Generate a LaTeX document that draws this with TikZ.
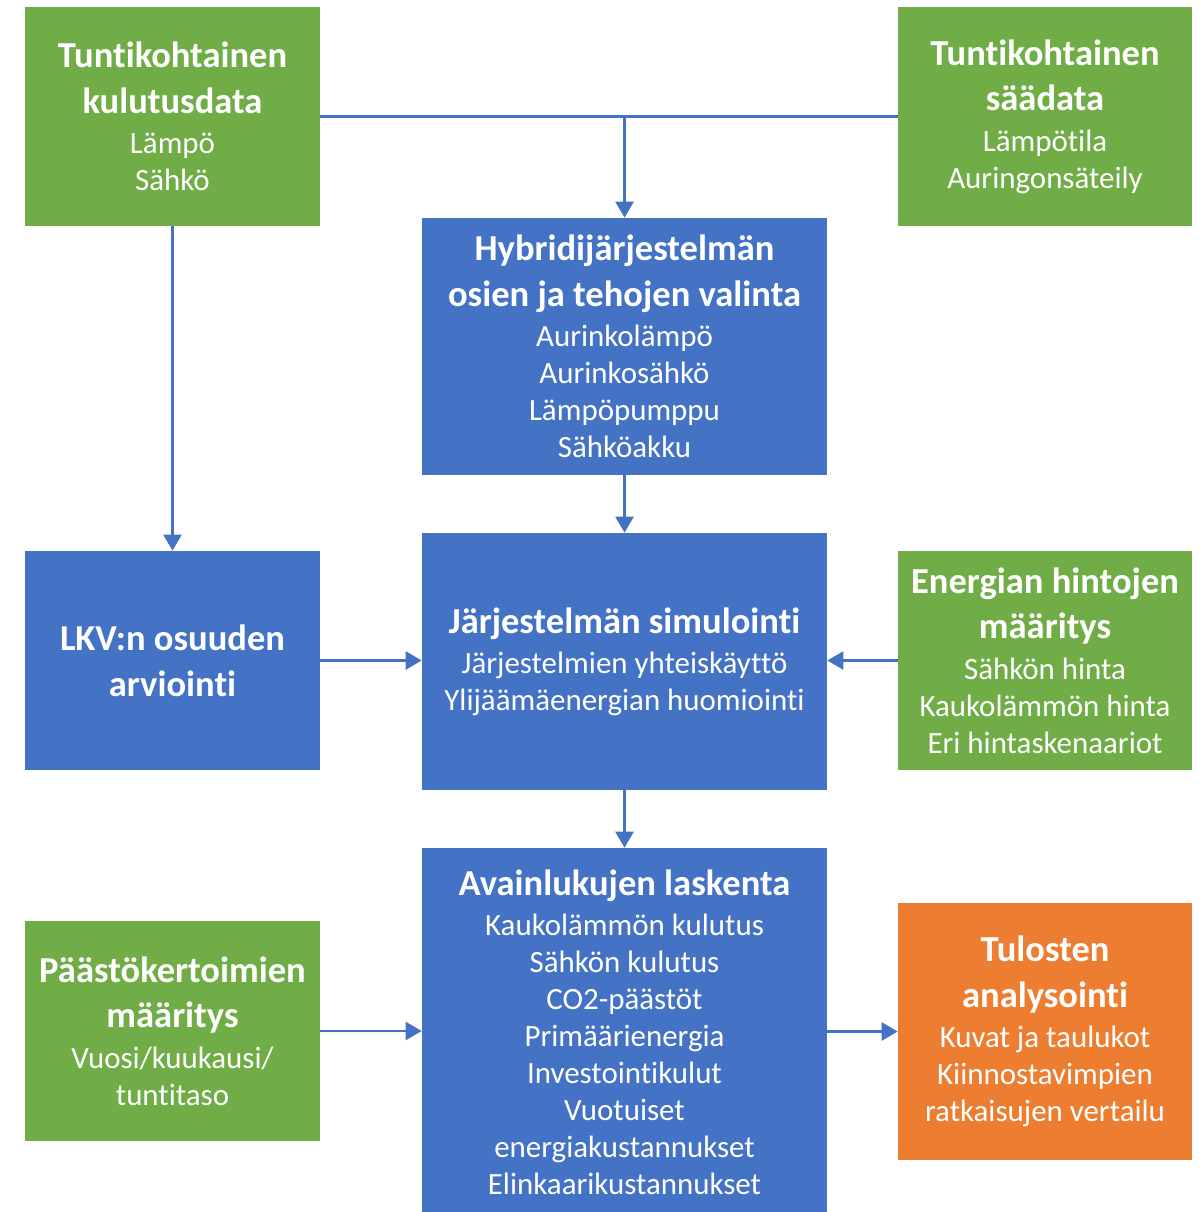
\documentclass[tikz,border=0pt]{standalone}
\usepackage{fontspec}
\setmainfont{Carlito}[Ligatures=NoCommon]
\usetikzlibrary{arrows.meta,positioning}
\definecolor{Grass}{RGB}{112,173,71}
\definecolor{Ocean}{RGB}{68,114,196}
\definecolor{Amber}{RGB}{237,125,49}
\newcommand{\hd}[1]{{\bfseries\fontsize{20.8}{21}\selectfont #1}}
\tikzset{
  fbox/.style={rectangle,fill=Ocean,text=white,align=center,
               font=\fontsize{17.6}{21}\selectfont,inner sep=2pt},
  gbox/.style={fbox,fill=Grass,minimum width=5.9cm,minimum height=4.38cm},
  bbox/.style={fbox,minimum width=8.1cm,minimum height=5.14cm},
  obox/.style={fbox,fill=Amber,minimum width=5.88cm,minimum height=5.14cm},
  link/.style={Ocean,line width=1.4pt},
  conn/.style={link,-{Triangle[length=0.32cm,width=0.36cm]}},
}

\begin{document}
\begin{tikzpicture}[x=0.02cm,y=-0.02cm]
  \useasboundingbox (0,0) rectangle (1202,1212);
  % inputs
  \node[gbox] (kulutus) at (172.5,116.5)
    {\hd{Tuntikohtainen}\\[5pt]\hd{kulutusdata}\\[2pt]Lämpö\\Sähkö};
  \node[gbox,minimum width=5.88cm] (saa) at (1045,116.5)
    {\hd{Tuntikohtainen}\\[5pt]\hd{säädata}\\[2pt]Lämpötila\\Auringonsäteily};
  \node[bbox] (valinta) at (624.5,346.5)
    {\hd{Hybridijärjestelmän}\\[5pt]\hd{osien ja tehojen valinta}\\[2pt]Aurinkolämpö\\
     Aurinkosähkö\\Lämpöpumppu\\Sähköakku};
  %
  \node[fbox,minimum width=5.9cm,minimum height=4.38cm] (lkv) at (172.5,660.5)
    {\hd{LKV:n osuuden}\\[5pt]\hd{arviointi}};
  \node[bbox] (simulointi) at (624.5,661.5)
    {\hd{Järjestelmän simulointi}\\[2pt]Järjestelmien yhteiskäyttö\\
     Ylijäämäenergian huomiointi};
  \node[gbox,minimum width=5.88cm] (hinnat) at (1045,660.5)
    {\hd{Energian hintojen}\\[5pt]\hd{määritys}\\[2pt]Sähkön hinta\\
     Kaukolämmön hinta\\Eri hintaskenaariot};
  %
  \node[gbox,minimum height=4.4cm] (paasto) at (172.5,1031)
    {\hd{Päästökertoimien}\\[5pt]\hd{määritys}\\[2pt]Vuosi/kuukausi/\\tuntitaso};
  \node[bbox,minimum height=7.36cm] (laskenta) at (624.5,1032)
    {\hd{Avainlukujen laskenta}\\[2pt]Kaukolämmön kulutus\\Sähkön kulutus\\
     CO2-päästöt\\Primäärienergia\\Investointikulut\\Vuotuiset\\
     energiakustannukset\\Elinkaarikustannukset};
  \node[obox] (tulokset) at (1045,1031.5)
    {\hd{Tulosten}\\[5pt]\hd{analysointi}\\[2pt]Kuvat ja taulukot\\
     Kiinnostavimpien\\ratkaisujen vertailu};
  % connectors
  \coordinate (split) at (kulutus.east -| valinta.north);
  \draw[link] (kulutus.east) -- (saa.west);
  \draw[conn] (split) -- (valinta.north);
  \draw[conn] (kulutus.south) -- (lkv.north);
  \draw[conn] (valinta.south) -- (simulointi.north);
  \draw[conn] (lkv.east) -- (lkv.east -| simulointi.west);
  \draw[conn] (hinnat.west) -- (hinnat.west -| simulointi.east);
  \draw[conn] (simulointi.south) -- (laskenta.north);
  \draw[conn] (paasto.east) -- (paasto.east -| laskenta.west);
  \draw[conn] (laskenta.east |- tulokset.west) -- (tulokset.west);
\end{tikzpicture}
\end{document}
